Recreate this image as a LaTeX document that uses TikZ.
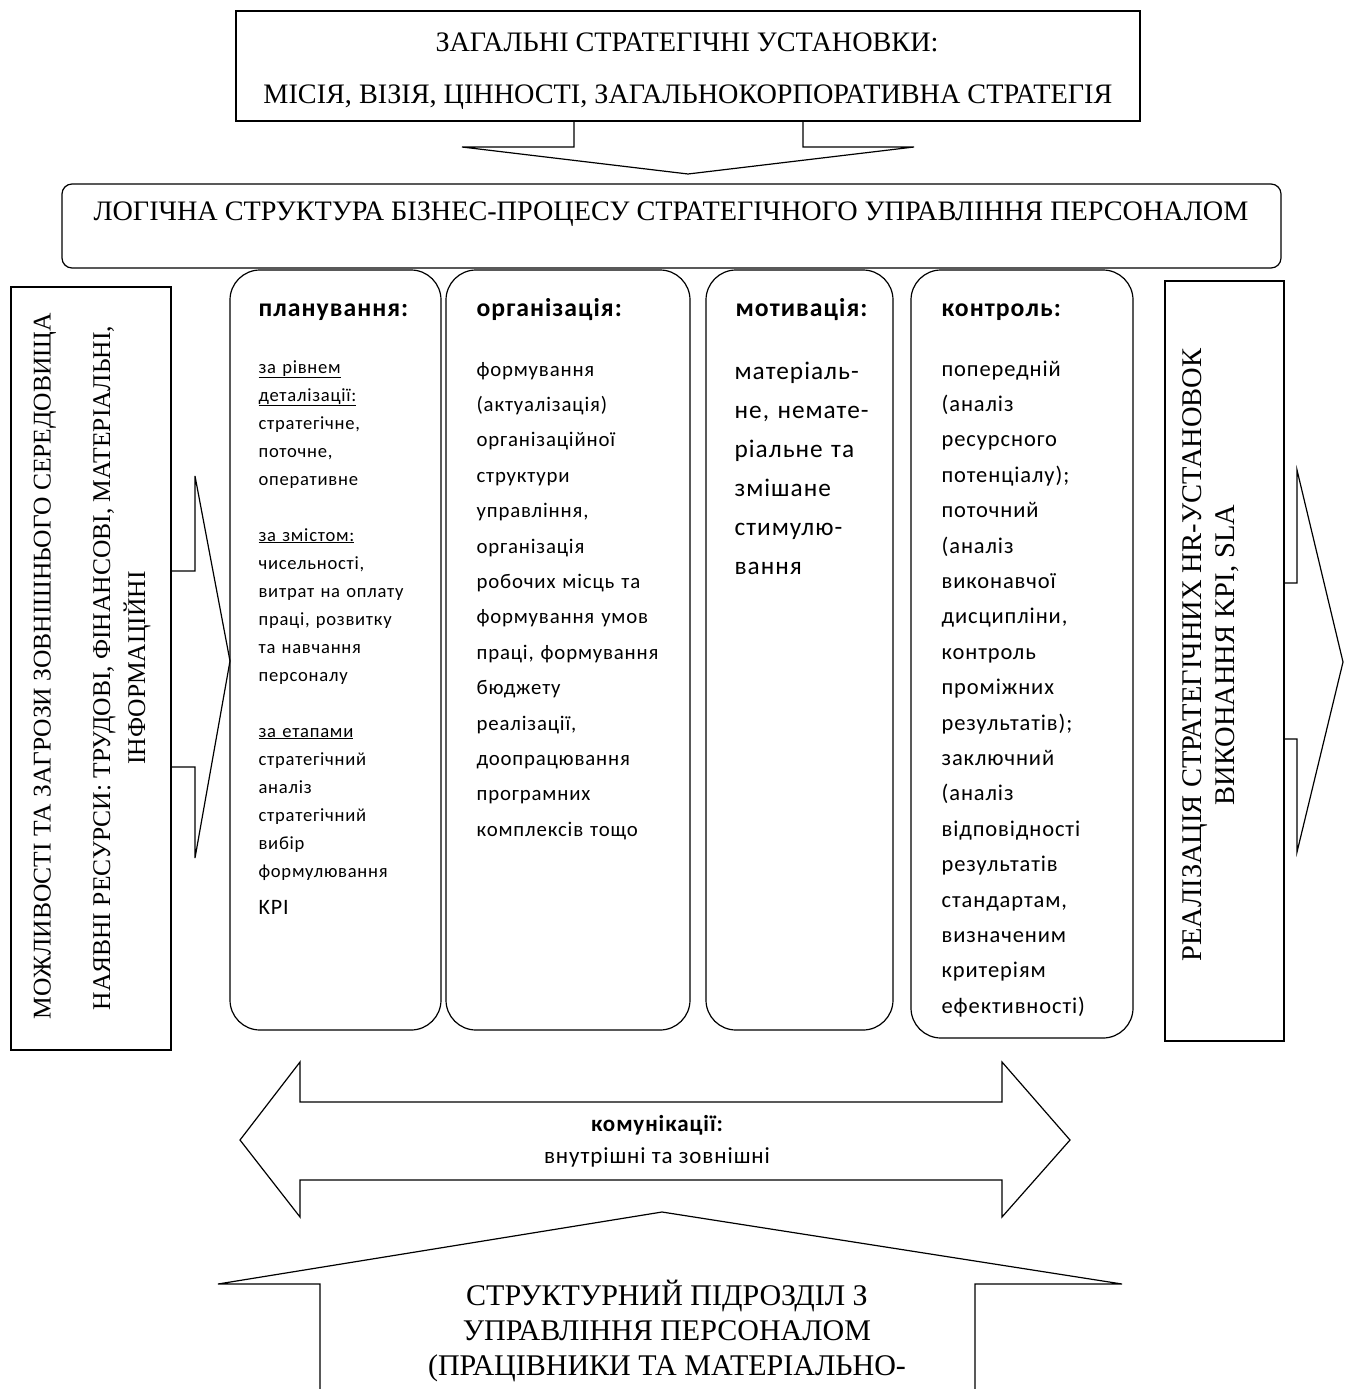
\documentclass[tikz,border=0pt]{standalone}
\usepackage{fontspec}
\setmainfont{Liberation Serif}
\newfontfamily\calib{Carlito}[LetterSpace=4]
\newcommand\fsz[2]{\fontsize{#1}{#2}\selectfont}
\begin{document}
\begin{tikzpicture}[x=1pt,y=-1pt,line width=1.2pt,line join=miter,
  sq/.style={draw,fill=white,inner sep=0pt},
  colbox/.style={draw,rounded corners=30pt,inner sep=0pt},
  blockarrow/.style={draw},
  serif/.style={inner sep=0pt,font=\fsz{#1}{35}},
  head/.style={anchor=base west,inner sep=0pt,font=\calib\bfseries\fsz{25.7}{28}},
  body/.style={anchor=base west,inner sep=0pt,align=left,text width=#1}]
\useasboundingbox (0,0) rectangle (1346,1389);

% top box
\node[sq,minimum width=904pt,minimum height=110pt] (top) at (688,66) {};
\node[serif=28.2] (topA) at (687,42) {ЗАГАЛЬНІ СТРАТЕГІЧНІ УСТАНОВКИ:};
\node[serif=28.2] (topB) at (688,97) {МІСІЯ, ВІЗІЯ, ЦІННОСТІ, ЗАГАЛЬНОКОРПОРАТИВНА СТРАТЕГІЯ};
\draw[blockarrow] (574,121) -- (574,147) -- (462,147) -- (688,174) -- (914,147) -- (803,147) -- (803,121);

% logic box
\node[draw,rounded corners=10pt,minimum width=1219pt,minimum height=84pt,inner sep=0pt] (logic) at (671.5,226) {};
\node[serif=28.2] (logicT) at (671,214) {ЛОГІЧНА СТРУКТУРА БІЗНЕС-ПРОЦЕСУ СТРАТЕГІЧНОГО УПРАВЛІННЯ ПЕРСОНАЛОМ};

% columns
\node[colbox,minimum width=211pt,minimum height=760pt] (c1) at (335.5,650) {};
\node[colbox,minimum width=244pt,minimum height=760pt] (c2) at (568,650) {};
\node[colbox,minimum width=187pt,minimum height=760pt] (c3) at (799.5,650) {};
\node[colbox,minimum width=222pt,minimum height=768pt] (c4) at (1022,654) {};

\node[head] (h1) at (258,316) {планування:};
\node[head] (h2) at (476,316) {організація:};
\node[head] (h3) at (735,316) {мотивація:};
\node[head] (h4) at (941,316) {контроль:};

\node[body=180pt,font=\calib\fsz{18.6}{28}] (t1) at (258,373) {%
\underline{за рівнем}\\
\underline{деталізації:}\\
стратегічне,\\
поточне,\\
оперативне\\[28pt]
\underline{за змістом:}\\
чисельності,\\
витрат на оплату\\
праці, розвитку\\
та навчання\\
персоналу\\[28pt]
\underline{за етапами}\\
стратегічний\\
аналіз\\
стратегічний\\
вибір\\
формулювання\\[9pt]
{\fsz{22}{28}KPI}};

\node[body=212pt,font=\calib\fsz{20.8}{35.4}] (t2) at (476,376) {%
формування\\
(актуалізація)\\
організаційної\\
структури\\
управління,\\
організація\\
робочих місць та\\
формування умов\\
праці, формування\\
бюджету\\
реалізації,\\
доопрацювання\\
програмних\\
комплексів тощо};

\node[body=160pt,font=\calib\fsz{25.3}{39}] (t3) at (734,379) {%
матеріаль-\\
не, немате-\\
ріальне та\\
змішане\\
стимулю-\\
вання};

\node[body=190pt,font=\calib\fsz{22.5}{35.4}] (t4) at (941,376) {%
попередній\\
(аналіз\\
ресурсного\\
потенціалу);\\
поточний\\
(аналіз\\
виконавчої\\
дисципліни,\\
контроль\\
проміжних\\
результатів);\\
заключний\\
(аналіз\\
відповідності\\
результатів\\
стандартам,\\
визначеним\\
критеріям\\
ефективності)};

% left box
\node[sq,minimum width=160pt,minimum height=763pt] (left) at (91,668.5) {};
\draw[blockarrow] (171,571) -- (195,571) -- (195,476) -- (230,661) -- (195,858) -- (195,767) -- (171,767);
\node[serif=25.5,rotate=90] (lA) at (45,666) {МОЖЛИВОСТІ ТА ЗАГРОЗИ ЗОВНІШНЬОГО СЕРЕДОВИЩА};
\node[serif=25.5,rotate=90,align=center] (lB) at (122,668) {НАЯВНІ РЕСУРСИ: ТРУДОВІ, ФІНАНСОВІ, МАТЕРІАЛЬНІ,\\ІНФОРМАЦІЙНІ};

% right box
\node[sq,minimum width=119pt,minimum height=760pt] (right) at (1224.5,661) {};
\draw[blockarrow] (1284,583) -- (1297,583) -- (1297,470) -- (1343,662) -- (1297,852) -- (1297,739) -- (1284,739);
\node[inner sep=0pt,rotate=90,align=center,font=\fsz{28.5}{33}] (rA) at (1211,655) {РЕАЛІЗАЦІЯ СТРАТЕГІЧНИХ HR-УСТАНОВОК\\ВИКОНАННЯ KPI, SLA};

% communications double arrow
\draw[blockarrow] (240,1140) -- (300,1062) -- (300,1102) -- (1002,1102) -- (1002,1062) -- (1070,1140) -- (1002,1217) -- (1002,1180) -- (300,1180) -- (300,1217) -- cycle;
\node[inner sep=0pt,font=\calib\bfseries\fsz{23}{26}] (comA) at (657,1125) {комунікації:};
\node[inner sep=0pt,font=\calib\fsz{23}{26}] (comB) at (657,1157) {внутрішні та зовнішні};

% bottom arrow
\draw[blockarrow] (320,1389) -- (320,1284) -- (218,1284) -- (662,1212) -- (1122,1284) -- (975,1284) -- (975,1389);
\node[inner sep=0pt,align=center,font=\fsz{30}{35}] (bot) at (667,1331) {СТРУКТУРНИЙ ПІДРОЗДІЛ З\\УПРАВЛІННЯ ПЕРСОНАЛОМ\\(ПРАЦІВНИКИ ТА МАТЕРІАЛЬНО-};
\end{tikzpicture}
\end{document}
